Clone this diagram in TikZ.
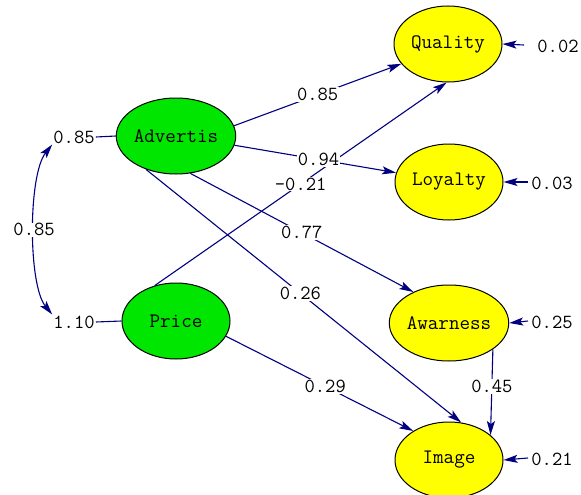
\documentclass[tikz,border=0pt]{standalone}
\usepackage{fontspec}
\usepackage{tikz}
\usetikzlibrary{shapes.geometric,arrows.meta}
\definecolor{linkblue}{RGB}{0,0,128}
\definecolor{exogreen}{RGB}{0,230,0}
\definecolor{endoyellow}{RGB}{255,255,0}

\begin{document}
\begin{tikzpicture}[
  x=1pt, y=-1pt,
  lat/.style={ellipse, draw=black, line width=1pt,
    minimum width=108pt, minimum height=76pt, inner sep=0pt,
    font=\ttfamily\fontsize{20.5}{20.5}\selectfont},
  exo/.style={lat, fill=exogreen},
  endo/.style={lat, fill=endoyellow},
  val/.style={font=\ttfamily\fontsize{20}{20}\selectfont, inner sep=1pt},
  coef/.style={val, fill=white},
  lnk/.style={draw=linkblue, line width=1.1pt},
  arr/.style={lnk, -{Stealth[length=14pt,width=8pt,inset=3pt]}},
  darr/.style={lnk, {Stealth[length=14pt,width=8pt,inset=3pt]}-{Stealth[length=14pt,width=8pt,inset=3pt]}}
]
  \clip (0,0) rectangle (581,495);

  \node[exo]  (adv) at (176,136) {Advertis};
  \node[exo]  (pri) at (176,321) {Price};
  \node[endo] (qua) at (448,44)  {Quality};
  \node[endo] (loy) at (449,182) {Loyalty};
  \node[endo] (awa) at (449,323) {Awarness};
  \node[endo] (img) at (449,460) {Image};

  \node[val] (va) at (74,137) {0.85};
  \node[val] (vp) at (74,322) {1.10};
  \draw[lnk] (va.east) -- (adv.west);
  \draw[lnk] (vp.east) -- (pri.west);
  \draw[darr] (va.south west) .. controls (28,175) and (28,285) .. (vp.north west)
    node[coef, midway] {0.85};

  \draw[arr] (pri.121) -- node[coef] {-0.21} (qua.268);
  \draw[arr] (adv.10)  -- node[coef] {0.85} (qua.203);
  \draw[arr] (adv.-9)  -- node[coef, pos=0.52] {0.94} (loy.170);
  \draw[arr] (adv.-69) -- node[coef] {0.77} (awa.139);
  \draw[arr] (adv.228) -- node[coef, pos=0.49] {0.26} (img.72);
  \draw[arr] (pri.-17) -- node[coef, pos=0.53] {0.29} (img.141);
  \draw[arr] (awa.-31) -- node[coef, pos=0.43] {0.45} (img.31);

  \coordinate (e1) at (524,45);
  \coordinate (e2) at (528,182);
  \coordinate (e3) at (528,321);
  \coordinate (e4) at (528,458);
  \draw[arr] (e1) -- (qua.east);
  \draw[arr] (e2) -- (loy.east);
  \draw[arr] (e3) -- (awa.east);
  \draw[arr] (e4) -- (img.east);
  \node[val] (r1) at (558,46)  {0.02};
  \node[val] (r2) at (552,183) {0.03};
  \node[val] (r3) at (552,322) {0.25};
  \node[val] (r4) at (552,459) {0.21};
\end{tikzpicture}
\end{document}
